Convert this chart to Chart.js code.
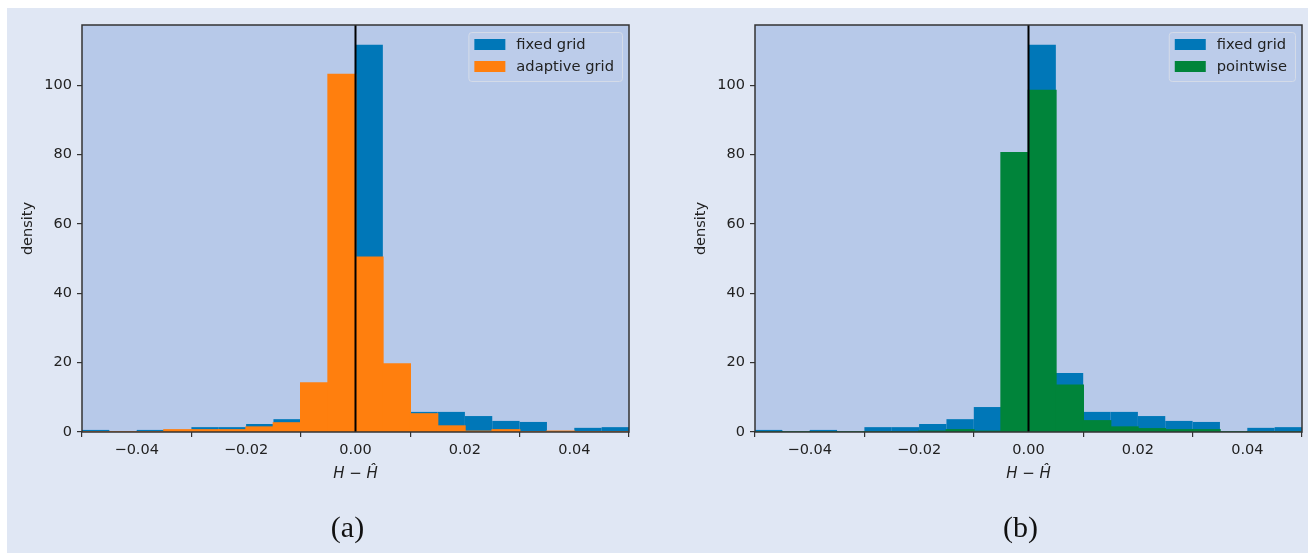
<!DOCTYPE html>
<html>
<head>
<meta charset="utf-8">
<script src="https://cdn.jsdelivr.net/npm/chart.js@4/dist/chart.umd.min.js"></script>
<style>
  html, body { margin: 0; padding: 0; background: #ffffff; }
  #frame {
    position: absolute; left: 7px; top: 8px; width: 1301px; height: 545px;
    background: #e0e7f4;
  }
  canvas { position: absolute; top: 8px; }
  #histA { left: 7px; }
  #histB { left: 680px; }
</style>
</head>
<body>
<div id="frame"></div>
<canvas id="histA" width="647" height="545"></canvas>
<canvas id="histB" width="628" height="545"></canvas>
<script>
// histogram bins, width 0.005, centres from -0.0475 to 0.0475
const binCenters = [-0.0475, -0.0425, -0.0375, -0.0325, -0.0275, -0.0225, -0.0175, -0.0125, -0.0075, -0.0025,
                    0.0025, 0.0075, 0.0125, 0.0175, 0.0225, 0.0275, 0.0325, 0.0375, 0.0425, 0.0475];

// density per bin
const fixedGrid    = [0.6, 0.2, 0.6, 0.2, 1.4, 1.4, 2.3, 3.7, 7.2, 28.5, 111.7, 17.0, 5.8, 5.8, 4.6, 3.2, 2.9, 0.1, 1.2, 1.4];
const adaptiveGrid = [0, 0, 0, 0.6, 0.6, 0.6, 1.4, 2.6, 14.1, 103.1, 50.4, 19.6, 5.2, 1.7, 0.1, 0.6, 0, 0.2, 0, 0];
const pointwise    = [0, 0, 0, 0, 0, 0, 0.2, 0.6, 0.1, 80.5, 98.5, 13.5, 3.2, 1.4, 0.9, 0.6, 0.6, 0, 0, 0];

const xTicks = [-0.04, -0.02, 0, 0.02, 0.04];
const yTicks = [0, 20, 40, 60, 80, 100];

const colors = {
    blue: '#0077b8',
    orange: '#ff7f0e',
    green: '#00843a',
    plotBg: '#b7c9e9',
    axis: '#333333',
    text: '#222222'
};

const tickFont = { family: 'DejaVu Sans', size: 14.5 };

const toPoints = values => values.map((v, i) => ({ x: binCenters[i], y: v }));

// axes background, frame, zero line, legend and caption
const panelDecor = {
    id: 'panelDecor',
    beforeDatasetsDraw(chart) {
        const { ctx, chartArea: a } = chart;
        ctx.save();
        ctx.fillStyle = colors.plotBg;
        ctx.fillRect(a.left, a.top, a.right - a.left, a.bottom - a.top);
        ctx.restore();
    },
    afterDatasetsDraw(chart) {
        const { ctx, chartArea: a } = chart;
        const x0 = chart.scales.x.getPixelForValue(0);
        ctx.save();
        ctx.strokeStyle = '#000000';
        ctx.lineWidth = 2;
        ctx.beginPath();
        ctx.moveTo(x0, a.top);
        ctx.lineTo(x0, a.bottom);
        ctx.stroke();
        ctx.strokeStyle = colors.axis;
        ctx.lineWidth = 1.5;
        ctx.strokeRect(a.left, a.top, a.right - a.left, a.bottom - a.top);
        ctx.restore();
    },
    afterDraw(chart, args, opts) {
        const { ctx, chartArea: a } = chart;
        const sets = chart.data.datasets;
        ctx.save();
        ctx.font = '14.7px "DejaVu Sans"';
        const textW = Math.max(...sets.map(d => ctx.measureText(d.label).width));
        const w = 48 + textW + 8;
        const h = 49;
        const bx = a.right - 7 - w;
        const by = a.top + 7;
        ctx.fillStyle = 'rgba(255,255,255,0.07)';
        ctx.strokeStyle = 'rgba(215,221,232,0.9)';
        ctx.lineWidth = 1;
        ctx.beginPath();
        ctx.roundRect(bx + 0.5, by + 0.5, w, h, 3);
        ctx.fill();
        ctx.stroke();
        sets.forEach((d, i) => {
            const y = by + 7 + i * 22;
            ctx.fillStyle = d.backgroundColor;
            ctx.fillRect(bx + 6, y, 31, 11);
            ctx.fillStyle = colors.text;
            ctx.textBaseline = 'middle';
            ctx.fillText(d.label, bx + 48, y + 6);
        });
        ctx.font = '30px "Liberation Serif"';
        ctx.textAlign = 'center';
        ctx.textBaseline = 'middle';
        ctx.fillStyle = '#111111';
        ctx.fillText(opts.caption, a.left + (a.right - a.left) / 2 - 8, 521);
        ctx.restore();
    }
};

function makeHistogram(canvasId, series, caption) {
    const ctx = document.getElementById(canvasId);
    const rightPad = ctx.width - 622;
    return new Chart(ctx, {
        type: 'bar',
        data: {
            datasets: series.map((s, i) => ({
                label: s.label,
                data: toPoints(s.values),
                backgroundColor: s.color,
                borderWidth: 0,
                inflateAmount: i === 0 ? 0 : 0.8,
                barPercentage: 1,
                categoryPercentage: 1,
                grouped: false,
                order: series.length - i
            }))
        },
        options: {
            responsive: false,
            animation: false,
            layout: { padding: { top: 17, right: rightPad, bottom: 69, left: 0 } },
            plugins: {
                legend: { display: false },
                tooltip: { enabled: false },
                panelDecor: { caption }
            },
            scales: {
                x: {
                    type: 'linear',
                    min: -0.05,
                    max: 0.05,
                    offset: false,
                    afterBuildTicks: scale => { scale.ticks = xTicks.map(v => ({ value: v })); },
                    afterFit: scale => { scale.height = 52; },
                    grid: { drawOnChartArea: false, drawTicks: true, tickLength: 5, color: colors.axis, lineWidth: 1.2 },
                    border: { display: false },
                    ticks: {
                        font: tickFont,
                        color: colors.text,
                        padding: 5,
                        maxRotation: 0,
                        callback: v => v.toFixed(2).replace('-', '\u2212')
                    },
                    title: {
                        display: true,
                        text: 'H \u2212 \u0124',
                        font: { family: 'DejaVu Sans', size: 15, style: 'italic' },
                        color: colors.text,
                        padding: { top: 0, bottom: 1 }
                    }
                },
                y: {
                    min: 0,
                    max: 117.4,
                    afterBuildTicks: scale => { scale.ticks = yTicks.map(v => ({ value: v })); },
                    afterFit: scale => { scale.width = 75; },
                    grid: { drawOnChartArea: false, drawTicks: true, tickLength: 5, color: colors.axis, lineWidth: 1.2 },
                    border: { display: false },
                    ticks: { font: tickFont, color: colors.text, padding: 5 },
                    title: {
                        display: true,
                        text: 'density',
                        font: { family: 'DejaVu Sans', size: 14.5 },
                        color: colors.text,
                        padding: { top: 13, bottom: 0 }
                    }
                }
            }
        },
        plugins: [panelDecor]
    });
}

makeHistogram('histA', [
    { label: 'fixed grid', values: fixedGrid, color: colors.blue },
    { label: 'adaptive grid', values: adaptiveGrid, color: colors.orange }
], '(a)');

makeHistogram('histB', [
    { label: 'fixed grid', values: fixedGrid, color: colors.blue },
    { label: 'pointwise', values: pointwise, color: colors.green }
], '(b)');
</script>
</body>
</html>
